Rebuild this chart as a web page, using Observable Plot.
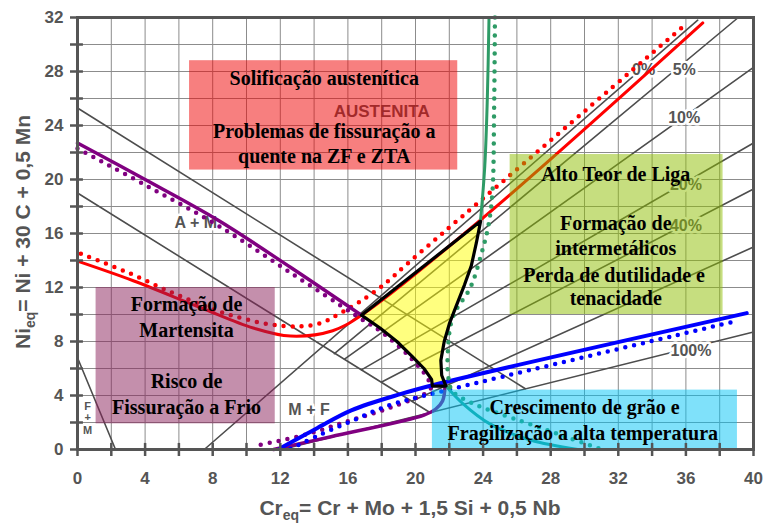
<!DOCTYPE html>
<html><head><meta charset="utf-8">
<script src="https://cdn.jsdelivr.net/npm/d3@7"></script>
<script src="https://cdn.jsdelivr.net/npm/@observablehq/plot@0.6"></script>
<style>body{margin:0;background:#fff}#chart{width:766px;height:523px}</style>
</head><body><div id="chart"></div>
<script>
// ---- axis ticks ----
const xTicksMinor = [0,2,4,6,8,10,12,14,16,18,20,22,24,26,28,30,32,34,36,38,40];
const yTicksMinor = [0,2,4,6,8,10,12,14,16,18,20,22,24,26,28,30,32];
const xLabelTitle = "Cr";
const yLabelTitle = "Ni";

// ---- gray Schaeffler boundary lines [Creq, Nieq] ----
const lineAM = [[0,25.3],[26.5,4.5]];
const lineM = [[0,19.0],[20.9,2.7]];
const lineFM = [[0,6.8],[2.25,0]];
const ferrite0 = [[7.5,0],[36.7,31.8]];
const ferrite5 = [[15.2,7.1],[39.1,32]];
const ferrite10 = [[15.8,6.7],[40,28.3]];
const ferrite20 = [[16.8,5.9],[40,22.7]];
const ferrite40 = [[18.0,5.0],[40,19.3]];
const ferrite80 = [[19.8,3.6],[40,15.0]];
const ferrite100 = [[12.1,0],[40,8.7]];

// ---- coloured curves ----
const redSolid = [[0,13.95],[3.3,12.5],[7.3,10.5],[10.4,9.0],[12.6,8.4],[15.1,8.8],[16.8,9.95],[23.85,17.0],[37.0,31.6]];
const redDotted = [[0.2,14.5],[3,13.1],[6,11.4],[9.2,9.9],[12.2,9.15],[14.2,9.3],[15.7,10.2],[17.7,11.8],[20.1,14.4],[35.9,31.4]];
const purpleSolidTop = [[0,22.7],[4,20.0],[8.3,17.0],[12.6,13.5],[16.8,9.95]];
const purpleSolidLow = [[11.6,0],[15,0.95],[20.5,2.55],[21.2,3.0],[21.6,3.6],[21.75,4.7]];
const purpleDotted = [[0,22.3],[4,19.6],[8.3,16.6],[12.6,13.1],[16.5,9.9],[18.1,8.6],[19.7,6.8],[20.7,5.3],[20.9,4.5],[18.5,3.1],[16.0,2.1],[13.5,1.1],[10.8,0.35]];
const blueSolid = [[12.0,0.1],[14.2,1.6],[16.2,2.9],[19.1,4.1],[21.3,4.85],[39.6,10.1]];
const blueDotted = [[12.6,0.05],[14.2,1.0],[16.2,2.1],[18.5,3.3],[20.9,4.1],[39.1,9.55]];
const greenSolid = [[24.35,32],[24.25,26],[24.1,21],[23.85,17.0]];
const tealSolid = [[21.8,4.7],[22.8,3.4],[24.4,1.9],[26.8,0.7],[29.6,0]];
const greenDotted = [[24.7,32],[24.65,25],[24.55,19.0],[24.3,16.5],[23.9,14.5],[23.25,12.0],[22.2,9.8],[21.9,6.8],[21.95,5.3],[22.2,4.3],[23.6,3.3],[25.8,2.3],[29.0,0.9],[30.9,0.05]];
const triangle = [[16.8,9.95],[23.85,16.9],[23.6,15.3],[23.3,13.6],[22.9,12.2],[22.4,10.6],[22.0,9.3],[21.7,8.0],[21.5,6.6],[21.55,5.5],[21.8,4.7],[21.0,4.7],[20.95,5.2],[20.5,6.0],[19.8,6.9],[18.9,8.0],[17.9,9.0],[16.8,9.95]];

// ---- diagram labels ----
const diagText = ["A + M","M + F","0%","5%","10%","20%","40%","100%"];
const diagX = [7.0,13.7,33.5,35.9,35.9,36.0,36.0,36.3];
const diagY = [16.8,2.9,28.1,28.1,24.6,19.6,16.6,7.3];
const fmText = ["F","+","M"];
const fmX = [0.6,0.6,0.6];
const fmY = [3.2,2.4,1.4];
const austText = ["AUSTENITA"];
const austX = [18.0];
const austY = [25.0];

// ---- highlight boxes ----
const boxNames = ["hot","alloy","cold","grain"];
const boxX1 = [6.63,25.6,1.1,21.0];
const boxX2 = [22.5,38.2,11.7,39.05];
const boxY1 = [20.7,10.0,1.9,0.05];
const boxY2 = [28.8,21.85,12.0,4.4];

// ---- box texts ----
const boxText = ["Solificação austenítica","Problemas de fissuração a","quente na ZF e ZTA",
  "Alto Teor de Liga","Formação de","intermetálicos","Perda de dutilidade e","tenacidade",
  "Formação de","Martensita","Risco de","Fissuração a Frio",
  "Crescimento de grão e","Fragilização a alta temperatura"];
const boxTextX = [14.6,14.6,14.6,31.85,31.85,31.85,31.75,31.85,6.45,6.45,6.45,6.45,30.0,29.9];
const boxTextY = [27.5,23.55,21.7,20.4,16.7,14.9,12.9,11.2,10.7,8.8,5.0,3.1,3.1,1.2];

// ---- build tables ----
const toRows = (pts, id) => pts.map(([x,y]) => ({x, y, id}));
const grayRows = [
  ...toRows(lineAM,"AM"), ...toRows(lineM,"M"), ...toRows(lineFM,"FM"),
  ...toRows(ferrite0,"f0"), ...toRows(ferrite5,"f5"), ...toRows(ferrite10,"f10"),
  ...toRows(ferrite20,"f20"), ...toRows(ferrite40,"f40"), ...toRows(ferrite80,"f80"),
  ...toRows(ferrite100,"f100")
];
const pt = a => a.map(([x,y]) => ({x,y}));
const labels = (t, xs, ys) => t.map((s,i) => ({text:s, x:xs[i], y:ys[i]}));
const boxColors = {hot:"#f00000", alloy:"#8dbd00", cold:"#891f59", grain:"#00c3f5"};
const boxes = boxNames.map((n,i) => ({name:n, x1:boxX1[i], x2:boxX2[i], y1:boxY1[i], y2:boxY2[i]}));

const sans = "'Liberation Sans', Arial, Helvetica, sans-serif";
const serif = "'Liberation Serif', 'Times New Roman', serif";
const dotted = (data, color) => Plot.line(pt(data), {x:"x", y:"y", stroke:color, strokeWidth:4.5, strokeDasharray:"0 9", strokeLinecap:"round", curve:"catmull-rom"});
const solid = (data, color, w=3.2) => Plot.line(pt(data), {x:"x", y:"y", stroke:color, strokeWidth:w, strokeLinejoin:"round", curve:"catmull-rom"});

const plot = Plot.plot({
  width: 766, height: 523,
  marginLeft: 77, marginRight: 13, marginTop: 17, marginBottom: 74,
  x: {domain:[0,40]},
  y: {domain:[0,32]},
  style: {fontFamily: sans, background: "white"},
  marks: [
    Plot.gridX(xTicksMinor, {stroke:"#8c8c8c", strokeOpacity:1, strokeWidth:1}),
    Plot.gridY(yTicksMinor, {stroke:"#8c8c8c", strokeOpacity:1, strokeWidth:1}),
    Plot.line(grayRows, {x:"x", y:"y", z:"id", stroke:"#4d4d4d", strokeWidth:1.6}),
    Plot.text(labels(diagText, diagX, diagY), {x:"x", y:"y", text:"text", fill:"#555", stroke:"white", strokeWidth:5, fontSize:16, fontWeight:"bold", fontFamily:sans}),
    Plot.text(labels(fmText, fmX, fmY), {x:"x", y:"y", text:"text", fill:"#555", stroke:"white", strokeWidth:3, fontSize:11, fontWeight:"bold", fontFamily:sans}),
    Plot.text(labels(austText, austX, austY), {x:"x", y:"y", text:"text", fill:"#555", fontSize:17, fontWeight:"bold", fontFamily:sans}),
    Plot.line(pt(triangle), {x:"x", y:"y", fill:"#ffff00", fillOpacity:0.5, stroke:"none"}),
    solid(redSolid, "#ff0000", 3),
    dotted(redDotted, "#ff0000"),
    solid(purpleSolidTop, "#800080", 3.5),
    solid(purpleSolidLow, "#800080", 3.5),
    dotted(purpleDotted, "#800080"),
    solid(blueSolid, "#0000ff", 4),
    dotted(blueDotted, "#0000ff"),
    solid(greenSolid, "#2e9b66", 3),
    solid(tealSolid, "#1f9e8a", 3),
    dotted(greenDotted, "#2e9b66"),
    Plot.line(pt(triangle), {x:"x", y:"y", stroke:"#000", strokeWidth:3.2, strokeLinejoin:"round"}),
    Plot.rect(boxes, {x1:"x1", x2:"x2", y1:"y1", y2:"y2", fill: d => boxColors[d.name], fillOpacity:0.5}),
    Plot.text(labels(boxText, boxTextX, boxTextY), {x:"x", y:"y", text:"text", fill:"#000", fontSize:20, fontWeight:"bold", fontFamily:serif}),
    Plot.ruleX(xTicksMinor, {y1:0, y2:0.45, stroke:"#555", strokeWidth:2.5}),
    Plot.ruleY(yTicksMinor, {x1:0, x2:0.35, stroke:"#555", strokeWidth:2.5}),
    Plot.axisX({ticks:xTicksMinor, tickSize:7, tickPadding:15, tickFormat: d => d % 4 === 0 ? String(d) : "", fontSize:17, fontWeight:"bold", fill:"#555", stroke:"#555", strokeWidth:2.5, label:null}),
    Plot.axisY({ticks:yTicksMinor, tickSize:7, tickPadding:7, tickFormat: d => d % 4 === 0 ? String(d) : "", fontSize:17, fontWeight:"bold", fill:"#555", stroke:"#555", strokeWidth:2.5, label:null}),
    Plot.frame({stroke:"#555", strokeWidth:3})
  ]
});
document.getElementById("chart").appendChild(plot);

// axis titles with subscripts
const svg = d3.select(plot);
const xt = svg.append("text").attr("x", 410).attr("y", 515).attr("text-anchor","middle")
  .attr("font-family", sans).attr("font-weight","bold").attr("font-size",21).attr("fill","#555");
xt.append("tspan").text(xLabelTitle);
xt.append("tspan").text("eq").attr("font-size",14).attr("dy",5);
xt.append("tspan").text("= Cr + Mo + 1,5 Si + 0,5 Nb").attr("dy",-5);
const yt = svg.append("text").attr("transform","translate(30,232) rotate(-90)").attr("text-anchor","middle")
  .attr("font-family", sans).attr("font-weight","bold").attr("font-size",21).attr("fill","#555");
yt.append("tspan").text(yLabelTitle);
yt.append("tspan").text("eq").attr("font-size",14).attr("dy",5);
yt.append("tspan").text("= Ni + 30 C + 0,5 Mn").attr("dy",-5);
</script></body></html>
